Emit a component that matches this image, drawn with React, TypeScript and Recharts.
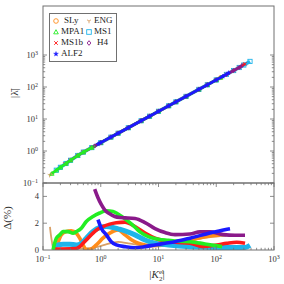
import React from "react";
import { ScatterChart, Scatter, LineChart, Line, XAxis, YAxis, Legend } from "recharts";

// series order = drawing order
const eosNames = ["ENG", "SLy", "MS1", "MS1b", "MPA1", "H4", "ALF2"];
const legendOrder = ["SLy", "ENG", "MPA1", "MS1", "MS1b", "H4", "ALF2"];
const eosColors: Record<string, string> = {
  SLy: "#ff8c1a",
  ENG: "#d9a066",
  MPA1: "#22ee22",
  MS1: "#1eb4ea",
  MS1b: "#ff1a1a",
  H4: "#8a1a8a",
  ALF2: "#1a1aff",
};
const eosMarkers: Record<string, string> = {
  SLy: "circle",
  ENG: "tri",
  MPA1: "triangle",
  MS1: "square",
  MS1b: "x",
  H4: "diamond",
  ALF2: "star",
};

// top panel: |lambda| vs |K2el|
const engK = [0.13, 0.143, 0.17, 0.2, 0.25, 0.3, 0.4, 0.5, 0.7, 1, 1.5, 2, 3, 5, 7, 10, 15, 20, 30, 50, 70, 100, 150];
const engL = [0.174, 0.197, 0.251, 0.309, 0.407, 0.513, 0.724, 0.923, 1.28, 1.82, 2.71, 3.59, 5.33, 8.81, 12.2, 17.4, 25.8, 34.3, 50.9, 84.1, 117, 166, 247];
const slyK = [0.2, 0.25, 0.3, 0.4, 0.5, 0.7, 1, 1.5, 2, 3, 5, 7, 10, 15, 20, 30, 50, 70, 100, 120];
const slyL = [0.309, 0.407, 0.513, 0.724, 0.923, 1.28, 1.82, 2.71, 3.59, 5.33, 8.81, 12.2, 17.4, 25.8, 34.3, 50.9, 84.1, 117, 166, 198];
const mpa1K = [0.143, 0.17, 0.2, 0.25, 0.3, 0.4, 0.5, 0.7, 1, 1.5, 2, 3, 5, 7, 10, 15, 20, 30, 50, 70, 100, 120];
const mpa1L = [0.197, 0.251, 0.309, 0.407, 0.513, 0.724, 0.923, 1.28, 1.82, 2.71, 3.59, 5.33, 8.81, 12.2, 17.4, 25.8, 34.3, 50.9, 84.1, 117, 166, 198];
const ms1K = [0.17, 0.2, 0.25, 0.3, 0.4, 0.5, 0.7, 1, 1.5, 2, 3, 5, 7, 10, 15, 20, 30, 50, 70, 100, 150, 200, 250, 300, 384];
const ms1L = [0.251, 0.309, 0.407, 0.513, 0.724, 0.923, 1.28, 1.82, 2.71, 3.59, 5.33, 8.81, 12.2, 17.4, 25.8, 34.3, 50.9, 84.1, 117, 166, 247, 327, 407, 487, 630];
const ms1bK = [0.24, 0.3, 0.4, 0.5, 0.7, 1, 1.5, 2, 3, 5, 7, 10, 15, 20, 30, 50, 70, 100, 150, 200, 250, 315];
const ms1bL = [0.39, 0.513, 0.724, 0.923, 1.28, 1.82, 2.71, 3.59, 5.33, 8.81, 12.2, 17.4, 25.8, 34.3, 50.9, 84.1, 117, 166, 247, 327, 407, 530];
const h4K = [0.785, 1, 1.5, 2, 3, 5, 7, 10, 15, 20, 30, 50, 70, 100, 150, 200, 250, 280];
const h4L = [1.44, 1.82, 2.71, 3.59, 5.33, 8.81, 12.2, 17.4, 25.8, 34.3, 50.9, 84.1, 117, 166, 247, 327, 407, 470];
const alf2K = [0.9, 1, 1.5, 2, 3, 5, 7, 10, 15, 20, 30, 50, 70, 100, 130, 164];
const alf2L = [1.64, 1.82, 2.71, 3.59, 5.33, 8.81, 12.2, 17.4, 25.8, 34.3, 50.9, 84.1, 117, 166, 215, 277];

// bottom panel: Delta(%) vs |K2el|
const engDK = [0.132, 0.137, 0.143, 0.149, 0.17, 0.2, 0.3, 0.5, 0.8, 1.2, 2, 3, 5, 8, 13, 20, 35, 60, 100, 150];
const engD = [1.73, 1.13, 0.6, 0.15, 0.05, 0.1, 0.15, 0.1, 0.2, 0.4, 0.6, 0.5, 0.35, 0.3, 0.35, 0.5, 0.7, 0.9, 1.0, 1.05];
const slyDK = [0.18, 0.207, 0.253, 0.309, 0.377, 0.432, 0.493, 0.562, 0.644, 0.838, 1.09, 1.43, 1.99, 2.63, 3.44, 4.47, 5.84, 7.62, 13, 23.6, 42.9, 78, 116];
const slyD = [0.5, 1.13, 1.38, 1.43, 1.26, 0.88, 0.38, 0.04, 0.04, 0.38, 0.88, 1.26, 1.5, 1.13, 0.75, 0.5, 0.38, 0.32, 0.38, 0.6, 0.83, 1.05, 1.13];
const mpa1DK = [0.149, 0.17, 0.195, 0.222, 0.271, 0.331, 0.377, 0.461, 0.562, 0.734, 0.959, 1.25, 1.63, 1.99, 2.31, 3.0, 3.92, 4.78, 6.66, 9.93, 14.8, 22, 35.1, 63.8, 126];
const mpa1D = [0, 0.88, 1.13, 1.37, 1.37, 1.25, 1.37, 1.63, 2.13, 2.5, 2.76, 2.93, 2.88, 2.68, 2.5, 2.13, 1.7, 1.35, 1.0, 0.8, 0.72, 0.65, 0.62, 0.45, 0.25];
const ms1DK = [0.149, 0.182, 0.222, 0.29, 0.377, 0.461, 0.562, 0.734, 0.959, 1.25, 1.63, 1.99, 2.63, 3.92, 5.84, 8.69, 14.8, 35.1, 116, 315, 384];
const ms1D = [0.25, 0.38, 0.43, 0.43, 0.38, 0.5, 0.88, 1.38, 1.68, 1.75, 1.68, 1.58, 1.43, 1.13, 0.75, 0.5, 0.38, 0.25, 0.19, 0.19, 0.34];
const ms1bDK = [0.149, 0.24, 0.377, 0.432, 0.493, 0.601, 0.734, 0.896, 1.09, 1.43, 1.86, 2.63, 3.92, 5.84, 8.69, 13, 19.3, 35.1, 59, 102, 152, 226, 315];
const ms1bD = [0.08, 0.08, 0.11, 0.25, 0.5, 0.88, 1.26, 1.56, 1.75, 1.93, 2.03, 2.08, 1.75, 1.26, 0.88, 0.68, 0.58, 0.5, 0.25, 0.38, 0.5, 0.58, 0.5];
const h4DK = [0.785, 0.896, 1.02, 1.17, 1.43, 1.75, 2.15, 2.63, 3.92, 5.84, 8.69, 13, 19.3, 35.1, 52.4, 78, 132, 211, 315];
const h4D = [4.55, 3.9, 3.4, 3.0, 2.7, 2.5, 2.42, 2.4, 2.35, 2.05, 1.6, 1.3, 1.15, 1.2, 1.35, 1.35, 1.15, 1.1, 1.1];
const alf2DK = [0.896, 1.02, 1.25, 1.52, 1.86, 2.63, 3.92, 5.84, 8.69, 13, 19.3, 35.1, 59, 102, 173];
const alf2D = [2.26, 1.63, 1.13, 0.62, 0.38, 0.25, 0.17, 0.25, 0.38, 0.5, 0.62, 0.88, 1.13, 1.38, 1.58];

const xMajor = [0.1, 1, 10, 100, 1000];
const xExp = ["\u22121", "0", "1", "2", "3"];
const topYMajor = [0.1, 1, 10, 100, 1000];
const bottomYTicks = [0, 2, 4];

const zip = (ks: number[], vs: number[]) => ks.map((k, i) => ({ k, v: vs[i] }));

const topData: Record<string, { k: number; v: number }[]> = {
  ENG: zip(engK, engL),
  SLy: zip(slyK, slyL),
  MPA1: zip(mpa1K, mpa1L),
  MS1: zip(ms1K, ms1L),
  MS1b: zip(ms1bK, ms1bL),
  H4: zip(h4K, h4L),
  ALF2: zip(alf2K, alf2L),
};
const bottomData: Record<string, { k: number; v: number }[]> = {
  ENG: zip(engDK, engD),
  SLy: zip(slyDK, slyD),
  MPA1: zip(mpa1DK, mpa1D),
  MS1: zip(ms1DK, ms1D),
  MS1b: zip(ms1bDK, ms1bD),
  H4: zip(h4DK, h4D),
  ALF2: zip(alf2DK, alf2D),
};

const withMinors = (majors: number[]) => {
  const out: number[] = [];
  majors.forEach((m, i) => {
    out.push(m);
    if (i < majors.length - 1) for (let j = 2; j < 10; j++) out.push(+(m * j).toPrecision(3));
  });
  return out;
};
const xTicks = withMinors(xMajor);
const topYTicks = withMinors(topYMajor);

const FONT = "'Liberation Serif', 'DejaVu Serif', serif";
const AXIS = "#707070";
const W = 284;
const LEFT = 43;
const RIGHT = 274;
const TOP_H = 194;
const TOP_PLOT_TOP = 6;
const TOP_PLOT_BOTTOM = 183;
const BOT_TOP = 182;
const BOT_PLOT_TOP = 1;
const BOT_PLOT_BOTTOM = 68;

const isMajor = (v: number) => Math.abs(Math.log10(v) - Math.round(Math.log10(v))) < 1e-6;

function Marker({ kind, cx, cy, color, s = 2.6 }: any) {
  const sw = 0.9;
  switch (kind) {
    case "circle":
      return <circle cx={cx} cy={cy} r={s} fill="none" stroke={color} strokeWidth={sw} />;
    case "triangle":
      return (
        <polygon
          points={`${cx},${cy - s} ${cx - s},${cy + s * 0.8} ${cx + s},${cy + s * 0.8}`}
          fill="none"
          stroke={color}
          strokeWidth={sw}
        />
      );
    case "square":
      return <rect x={cx - s} y={cy - s} width={2 * s} height={2 * s} fill="none" stroke={color} strokeWidth={sw} />;
    case "diamond":
      return (
        <polygon
          points={`${cx},${cy - s} ${cx + s * 0.8},${cy} ${cx},${cy + s} ${cx - s * 0.8},${cy}`}
          fill="none"
          stroke={color}
          strokeWidth={sw}
        />
      );
    case "x":
      return (
        <path
          d={`M${cx - s * 0.8},${cy - s * 0.8}L${cx + s * 0.8},${cy + s * 0.8}M${cx - s * 0.8},${cy + s * 0.8}L${cx + s * 0.8},${cy - s * 0.8}`}
          stroke={color}
          strokeWidth={sw}
        />
      );
    case "tri":
      return (
        <path
          d={`M${cx},${cy}L${cx},${cy + s}M${cx},${cy}L${cx - s * 0.87},${cy - s * 0.5}M${cx},${cy}L${cx + s * 0.87},${cy - s * 0.5}`}
          stroke={color}
          strokeWidth={sw}
        />
      );
    default: {
      const pts: string[] = [];
      for (let i = 0; i < 10; i++) {
        const r = i % 2 === 0 ? s * 1.1 : s * 0.45;
        const a = (Math.PI / 5) * i - Math.PI / 2;
        pts.push(`${cx + r * Math.cos(a)},${cy + r * Math.sin(a)}`);
      }
      return <polygon points={pts.join(" ")} fill={color} stroke={color} strokeWidth={0.4} />;
    }
  }
}

function PowLabel({ x, y, exp, anchor }: any) {
  return (
    <text x={x} y={y} textAnchor={anchor} fontFamily={FONT} fontSize={8.5} fill="#333">
      10
      <tspan dy={-3.5} fontSize={6}>
        {exp}
      </tspan>
    </text>
  );
}

function XTick({ x, y, payload, plotTop, label }: any) {
  const v = payload.value;
  const major = isMajor(v);
  const len = major ? 4 : 2.2;
  const idx = xMajor.findIndex((m) => Math.abs(m - v) < 1e-9);
  return (
    <g>
      <line x1={x} x2={x} y1={y} y2={y - len} stroke={AXIS} strokeWidth={0.8} />
      <line x1={x} x2={x} y1={plotTop} y2={plotTop + len} stroke={AXIS} strokeWidth={0.8} />
      {label && idx >= 0 && <PowLabel x={x} y={y + 12} exp={xExp[idx]} anchor="middle" />}
    </g>
  );
}

function YLogTick({ x, y, payload }: any) {
  const v = payload.value;
  const major = isMajor(v);
  const len = major ? 4 : 2.2;
  const idx = topYMajor.findIndex((m) => Math.abs(m - v) < 1e-9);
  return (
    <g>
      <line x1={x} x2={x + len} y1={y} y2={y} stroke={AXIS} strokeWidth={0.8} />
      <line x1={RIGHT} x2={RIGHT - len} y1={y} y2={y} stroke={AXIS} strokeWidth={0.8} />
      {idx >= 0 && <PowLabel x={x - 5} y={y + 3} exp={xExp[idx]} anchor="end" />}
    </g>
  );
}

function YLinTick({ x, y, payload }: any) {
  return (
    <g>
      {payload.value !== 0 && (
        <>
          <line x1={x} x2={x + 4} y1={y} y2={y} stroke={AXIS} strokeWidth={0.8} />
          <line x1={RIGHT} x2={RIGHT - 4} y1={y} y2={y} stroke={AXIS} strokeWidth={0.8} />
        </>
      )}
      <text x={x - 4} y={y + 3} textAnchor="end" fontFamily={FONT} fontSize={8.5} fill="#333">
        {payload.value}
      </text>
    </g>
  );
}

function LegendBox() {
  return (
    <div
      style={{
        border: `1px solid ${AXIS}`,
        background: "#fff",
        width: 64,
        padding: "1px 0 2px 2px",
        display: "grid",
        gridTemplateColumns: "33px 31px",
        rowGap: 0,
        fontFamily: FONT,
        fontSize: 9,
        lineHeight: "11px",
        color: "#222",
      }}
    >
      {legendOrder.map((n) => (
        <div key={n} style={{ display: "flex", alignItems: "center", whiteSpace: "nowrap" }}>
          <svg width={8} height={8} style={{ marginRight: 1 }}>
            <Marker kind={eosMarkers[n]} cx={4} cy={4} color={eosColors[n]} s={2.3} />
          </svg>
          <span style={{ marginLeft: n === "SLy" || n === "H4" ? 3 : 0 }}>{n}</span>
        </div>
      ))}
    </div>
  );
}

export default function App() {
  return (
    <div style={{ position: "fixed", left: 0, top: 0, width: W, height: W, background: "#fff" }}>
      <div style={{ position: "absolute", left: 0, top: BOT_TOP }}>
        <LineChart width={W} height={102} margin={{ top: BOT_PLOT_TOP, right: W - RIGHT, bottom: 4, left: 0 }}>
          <XAxis
            dataKey="k"
            type="number"
            scale="log"
            domain={[0.1, 1000]}
            allowDataOverflow
            ticks={xTicks}
            interval={0}
            height={30}
            tickSize={0}
            tickMargin={0}
            axisLine={false}
            tickLine={false}
            tick={<XTick plotTop={BOT_PLOT_TOP} label />}
          />
          <YAxis
            dataKey="v"
            type="number"
            domain={[0, 5]}
            allowDataOverflow
            ticks={bottomYTicks}
            interval={0}
            width={LEFT}
            tickSize={0}
            tickMargin={0}
            axisLine={false}
            tickLine={false}
            tick={<YLinTick />}
          />
          {eosNames.map((n) => (
            <Line
              key={n}
              data={bottomData[n]}
              dataKey="v"
              type="monotone"
              stroke={eosColors[n]}
              strokeWidth={n === "ENG" ? 1.8 : n === "MS1" ? 5 : 3.6}
              dot={false}
              isAnimationActive={false}
            />
          ))}
        </LineChart>
      </div>
      <div style={{ position: "absolute", left: 0, top: 0 }}>
        <ScatterChart width={W} height={TOP_H} margin={{ top: TOP_PLOT_TOP, right: W - RIGHT, bottom: TOP_H - TOP_PLOT_BOTTOM, left: 0 }}>
          <XAxis
            dataKey="k"
            type="number"
            scale="log"
            domain={[0.1, 1000]}
            allowDataOverflow
            ticks={xTicks}
            interval={0}
            height={0}
            tickSize={0}
            tickMargin={0}
            axisLine={false}
            tickLine={false}
            tick={<XTick plotTop={TOP_PLOT_TOP} label={false} />}
          />
          <YAxis
            dataKey="v"
            type="number"
            scale="log"
            domain={[0.1, 1000]}
            allowDataOverflow
            ticks={topYTicks}
            interval={0}
            width={LEFT}
            tickSize={0}
            tickMargin={0}
            axisLine={false}
            tickLine={false}
            tick={<YLogTick />}
          />
          <Legend
            verticalAlign="top"
            align="left"
            content={() => <LegendBox />}
            wrapperStyle={{ position: "absolute", left: 49, top: 13, width: "auto" }}
          />
          {eosNames.map((n) => (
            <Scatter
              key={n}
              name={n}
              data={topData[n]}
              isAnimationActive={false}
              line={{ stroke: eosColors[n], strokeWidth: n === "MS1" ? 3.5 : 2.6 }}
              shape={(p: any) => <Marker kind={eosMarkers[n]} cx={p.cx} cy={p.cy} color={eosColors[n]} s={2.1} />}
            />
          ))}
        </ScatterChart>
      </div>
      <svg width={W} height={W} style={{ position: "absolute", left: 0, top: 0, pointerEvents: "none" }}>
        <rect x={LEFT} y={TOP_PLOT_TOP} width={RIGHT - LEFT} height={TOP_PLOT_BOTTOM - TOP_PLOT_TOP} fill="none" stroke={AXIS} strokeWidth={1} />
        <rect x={LEFT} y={BOT_TOP + BOT_PLOT_TOP} width={RIGHT - LEFT} height={BOT_PLOT_BOTTOM - BOT_PLOT_TOP} fill="none" stroke={AXIS} strokeWidth={1} />
        <text x={18} y={93} transform="rotate(-90 18 93)" textAnchor="middle" fontFamily={FONT} fontSize={11} fill="#333">
          |λ̄|
        </text>
        <text x={11} y={218} transform="rotate(-90 11 218)" textAnchor="middle" fontFamily={FONT} fontSize={11} fill="#333">
          Δ(%)
        </text>
        <text x={157} y={278} textAnchor="middle" fontFamily={FONT} fontSize={11} fill="#333">
          |<tspan fontStyle="italic">K</tspan>
          <tspan dy={-4} fontSize={7}>el</tspan>
          <tspan dx={-5} dy={7} fontSize={7}>2</tspan>
          <tspan dy={-3}>|</tspan>
        </text>
      </svg>
    </div>
  );
}
